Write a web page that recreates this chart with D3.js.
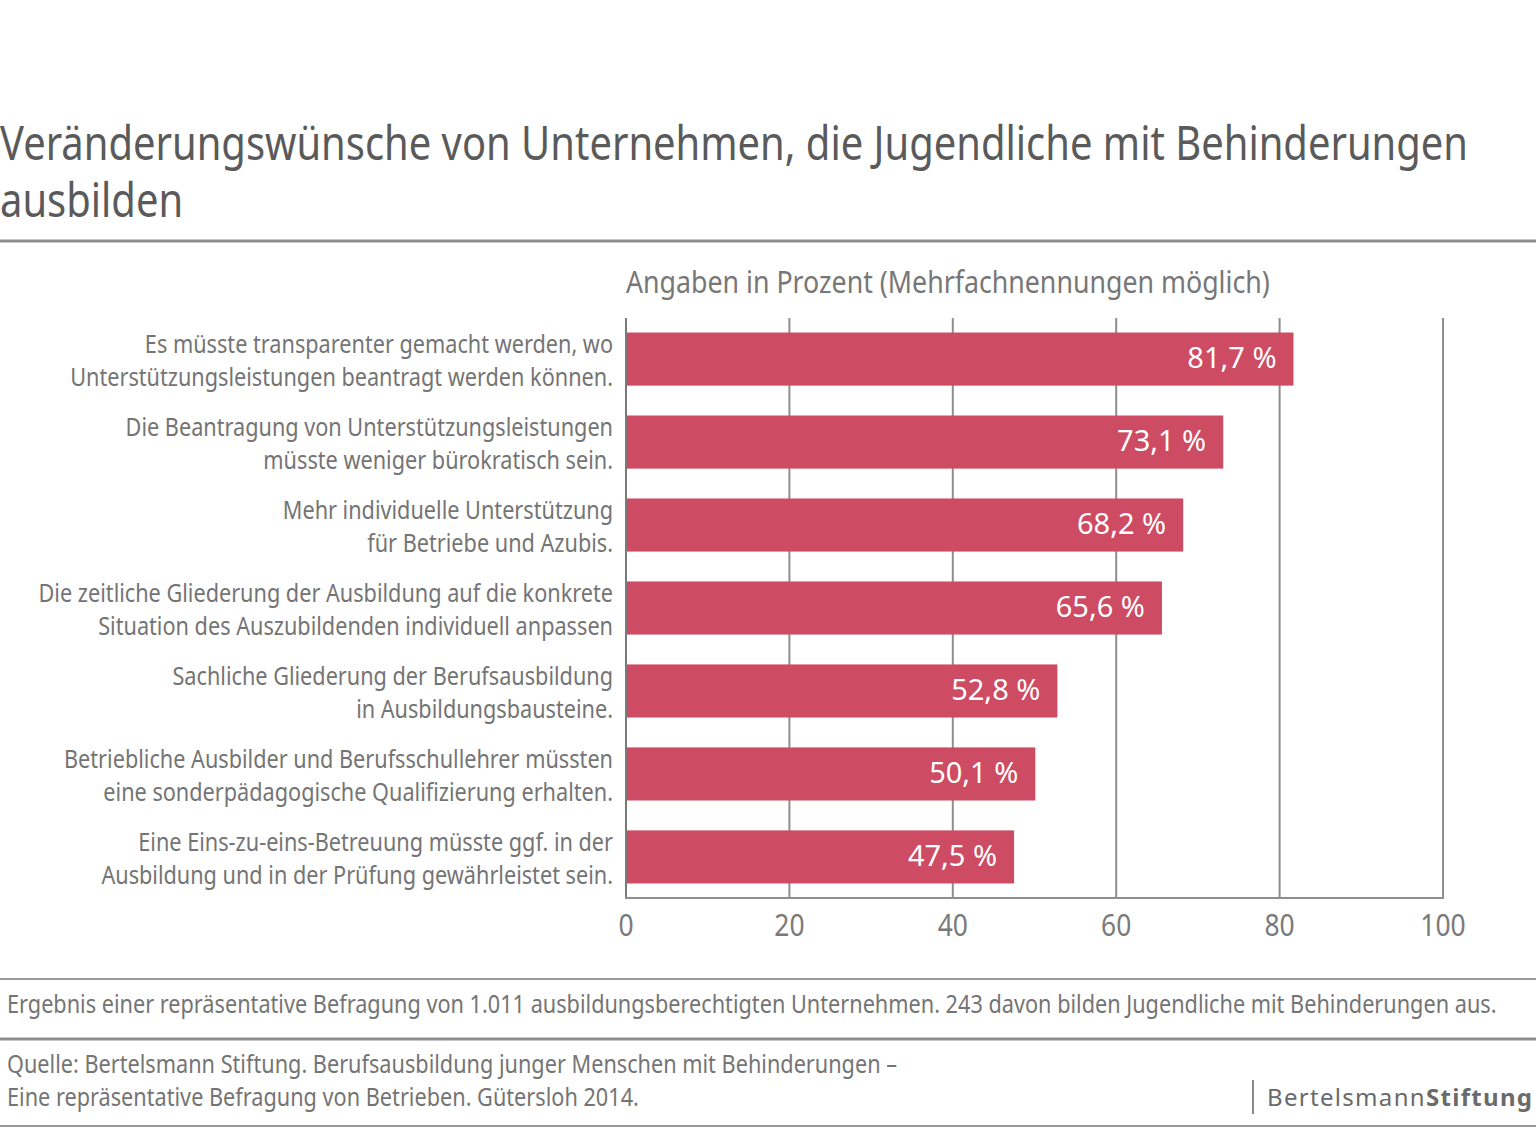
<!DOCTYPE html>
<html lang="de">
<head>
<meta charset="UTF-8">
<title>Veränderungswünsche von Unternehmen</title>
<script src="https://cdn.jsdelivr.net/npm/d3@7"></script>
<style>
  html, body { margin: 0; padding: 0; background: #fff; }
  svg { display: block; }
  text { font-family: "Noto Sans", "Open Sans", sans-serif; }
</style>
</head>
<body>
<svg id="chart" width="1536" height="1128"></svg>
<script>
// chart data
var titleLines = ["Veränderungswünsche von Unternehmen, die Jugendliche mit Behinderungen", "ausbilden"];
var subtitle = "Angaben in Prozent (Mehrfachnennungen möglich)";

var categories = [
  ["Es müsste transparenter gemacht werden, wo", "Unterstützungsleistungen beantragt werden können."],
  ["Die Beantragung von Unterstützungsleistungen", "müsste weniger bürokratisch sein."],
  ["Mehr individuelle Unterstützung", "für Betriebe und Azubis."],
  ["Die zeitliche Gliederung der Ausbildung auf die konkrete", "Situation des Auszubildenden individuell anpassen"],
  ["Sachliche Gliederung der Berufsausbildung", "in Ausbildungsbausteine."],
  ["Betriebliche Ausbilder und Berufsschullehrer müssten", "eine sonderpädagogische Qualifizierung erhalten."],
  ["Eine Eins-zu-eins-Betreuung müsste ggf. in der", "Ausbildung und in der Prüfung gewährleistet sein."]
];
var values = [81.7, 73.1, 68.2, 65.6, 52.8, 50.1, 47.5];
var ticks = [0, 20, 40, 60, 80, 100];

var note = "Ergebnis einer repräsentative Befragung von 1.011 ausbildungsberechtigten Unternehmen. 243 davon bilden Jugendliche mit Behinderungen aus.";
var sourceLines = ["Quelle: Bertelsmann Stiftung. Berufsausbildung junger Menschen mit Behinderungen –",
                   "Eine repräsentative Befragung von Betrieben. Gütersloh 2014."];

// look
var barColor = "#cd4c63";
var textGray = "#747474";
var lineGray = "#8e8e8e";

var svg = d3.select("#chart");

// squeezed text (imitates the condensed face of the original)
function txt(parent, s, x, y, size, fill, anchor, sx) {
  return parent.append("text")
    .attr("transform", "translate(" + x + "," + y + ") scale(" + (sx || 0.86) + ",1)")
    .attr("text-anchor", anchor || "start")
    .style("font-size", size + "px")
    .attr("fill", fill)
    .text(s);
}

function hline(y, x1, x2, w, c) {
  svg.append("line").attr("x1", x1).attr("x2", x2).attr("y1", y).attr("y2", y)
    .attr("stroke", c).attr("stroke-width", w);
}

// title
titleLines.forEach(function (t, i) {
  txt(svg, t, 0, 160 + i * 57, 48, "#5a5a5a", "start", 0.832);
});
hline(241, 0, 1536, 3, lineGray);

// subtitle
txt(svg, subtitle, 626, 293, 31, "#777", "start", 0.863);

// scales
var x = d3.scaleLinear().domain([0, 100]).range([626, 1443]);
var y = d3.scaleBand().domain(d3.range(categories.length)).range([318, 898])
  .paddingInner(0.36).paddingOuter(0.175);

// grid
svg.append("g").selectAll("line").data(ticks.slice(1)).enter().append("line")
  .attr("x1", function (d) { return x(d); }).attr("x2", function (d) { return x(d); })
  .attr("y1", 318).attr("y2", 898)
  .attr("stroke", lineGray).attr("stroke-width", 2);

// bars
svg.append("g").selectAll("rect").data(values).enter().append("rect")
  .attr("x", x(0))
  .attr("y", function (d, i) { return y(i); })
  .attr("width", function (d) { return x(d) - x(0); })
  .attr("height", y.bandwidth())
  .attr("fill", barColor);

// axis lines
svg.append("line").attr("x1", x(0)).attr("x2", x(0)).attr("y1", 318).attr("y2", 899)
  .attr("stroke", "#7a7a7a").attr("stroke-width", 2);
hline(898, x(0) - 1, x(100) + 1, 2, lineGray);

// tick labels
ticks.forEach(function (t) {
  txt(svg, t, x(t), 936, 30, "#7a7a7a", "middle", 0.88);
});

// value labels
values.forEach(function (v, i) {
  var s = v.toFixed(1).replace(".", ",") + " %";
  txt(svg, s, x(v) - 17, y(i) + y.bandwidth() / 2 + 9, 29, "#fff", "end", 1.0);
});

// category labels
categories.forEach(function (lines, i) {
  var c = y(i) + y.bandwidth() / 2;
  lines.forEach(function (l, j) {
    txt(svg, l, 613, c - 6 + j * 33, 25.5, textGray, "end", 0.85);
  });
});

// footer
hline(979, 0, 1536, 2, "#9a9a9a");
txt(svg, note, 7, 1013, 25, textGray, "start", 0.868);
hline(1039, 0, 1536, 3, lineGray);
sourceLines.forEach(function (l, i) {
  txt(svg, l, 7, 1073 + i * 33, 25, textGray, "start", 0.868);
});
hline(1126, 0, 1536, 2, "#9a9a9a");

// logo
svg.append("line").attr("x1", 1253).attr("x2", 1253).attr("y1", 1080).attr("y2", 1114)
  .attr("stroke", "#8a8a8a").attr("stroke-width", 2);
var logo = svg.append("text")
  .attr("x", 1267).attr("y", 1106)
  .attr("textLength", 265).attr("lengthAdjust", "spacing")
  .style("font-size", "24px")
  .attr("fill", "#6a6a6a");
logo.append("tspan").text("Bertelsmann");
logo.append("tspan").style("font-weight", 700).text("Stiftung");
</script>
</body>
</html>
